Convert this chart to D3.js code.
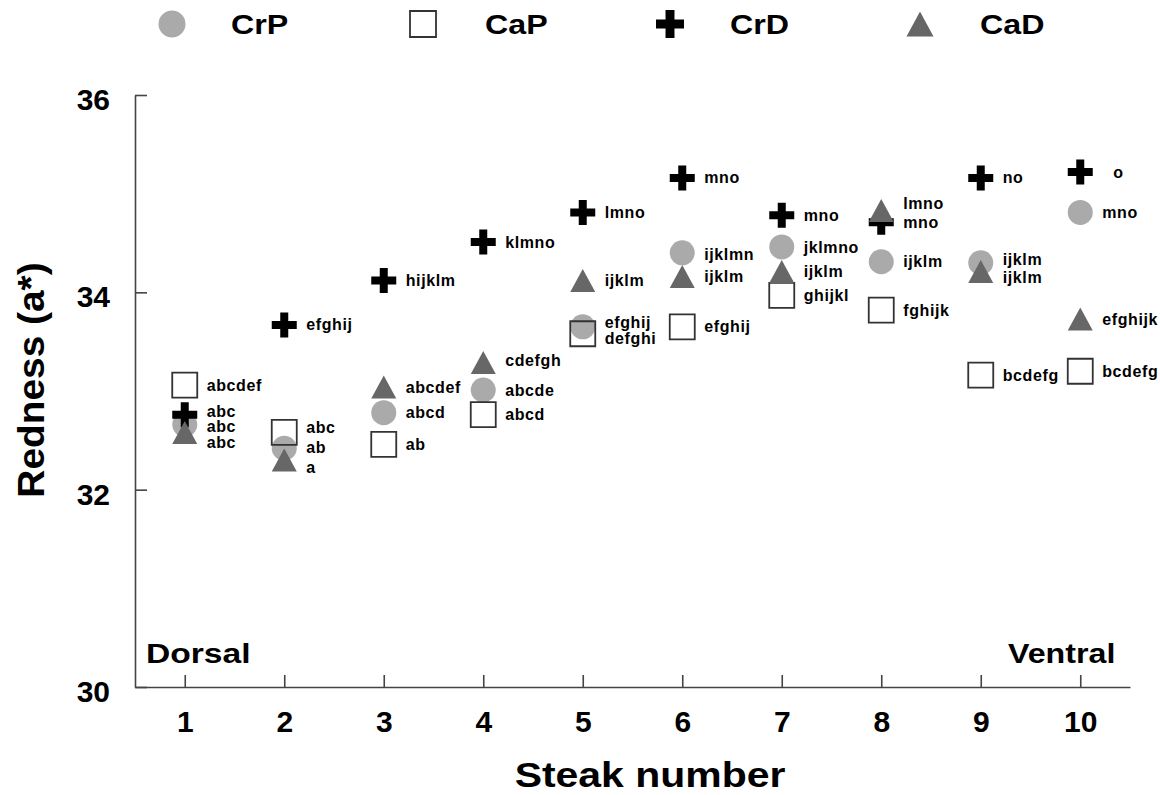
<!DOCTYPE html>
<html>
<head>
<meta charset="utf-8">
<script src="https://cdn.jsdelivr.net/npm/d3@7"></script>
<style>
  html, body { margin: 0; padding: 0; background: #fff; }
  svg { display: block; }
  text { font-family: "Liberation Sans", Arial, sans-serif; font-weight: bold; fill: #000; }
</style>
</head>
<body>
<svg id="chart" width="1160" height="795"></svg>
<script>
// ---- data ----
const steaks = [1, 2, 3, 4, 5, 6, 7, 8, 9, 10];
const seriesNames = ["CrP", "CaP", "CrD", "CaD"];
const CrP = [32.66, 32.42, 32.78, 33.01, 33.65, 34.40, 34.46, 34.31, 34.30, 34.81];
const CaP = [33.06, 32.58, 32.46, 32.76, 33.58, 33.65, 33.97, 33.82, 33.16, 33.20];
const CrD = [32.76, 33.67, 34.12, 34.51, 34.81, 35.16, 34.78, 34.71, 35.16, 35.22];
const CaD = [32.58, 32.30, 33.04, 33.29, 34.12, 34.16, 34.21, 34.83, 34.21, 33.73];
const CrPLetters = ["abc", "ab", "abcd", "abcde", "efghij", "ijklmn", "jklmno", "ijklm", "ijklm", "mno"];
const CaPLetters = ["abcdef", "abc", "ab", "abcd", "defghi", "efghij", "ghijkl", "fghijk", "bcdefg", "bcdefg"];
const CrDLetters = ["abc", "efghij", "hijklm", "klmno", "lmno", "mno", "mno", "mno", "no", "o"];
const CaDLetters = ["abc", "a", "abcdef", "cdefgh", "ijklm", "ijklm", "ijklm", "lmno", "ijklm", "efghijk"];
const yTicks = [30, 32, 34, 36];
const xTicks = steaks;

// ---- layout (label nudges, px) ----
const labelDy = {
  CrP: [2, -1, 0, 0, -4, 2, 0, 0, -3, 0],
  CaP: [0, -5, 0, 0, 5, 0, 0, 0, 0, 0],
  CrD: [-3, 0, 0, 0, 0, 0, 0, 0, 0, 0],
  CaD: [10, 7, 0, -2, 0, 0, 0, -7, 6, 0]
};
const labelDx = {
  CrP: [0, 0, 0, 0, 0, 0, 0, 0, 0, 0],
  CaP: [0, 0, 0, 0, 0, 0, 0, 0, 0, 0],
  CrD: [0, 0, 0, 0, 0, 0, 0, 0, 0, 11],
  CaD: [0, 0, 0, 0, 0, 0, 0, 0, 0, 0]
};

const values = { CrP, CaP, CrD, CaD };
const letters = { CrP: CrPLetters, CaP: CaPLetters, CrD: CrDLetters, CaD: CaDLetters };

const svg = d3.select("#chart");
const x = d3.scaleLinear().domain([0.5, 10.5]).range([135, 1130]);
const y = d3.scaleLinear().domain([30, 36]).range([687, 95]);

// marker shape paths centered at 0,0
function shapePath(name, s) {
  const h = s / 2;
  if (name === "CrP") {
    return `M${-h},0A${h},${h} 0 1,0 ${h},0A${h},${h} 0 1,0 ${-h},0Z`;
  }
  if (name === "CaP") {
    return `M${-h},${-h}H${h}V${h}H${-h}Z`;
  }
  if (name === "CrD") {
    const t = s * 0.16;
    return `M${-t},${-h}H${t}V${-t}H${h}V${t}H${t}V${h}H${-t}V${t}H${-h}V${-t}H${-t}Z`;
  }
  const th = s * 0.46;
  return `M0,${-th}L${h},${th}L${-h},${th}Z`;
}
const styles = {
  CrP: { fill: "#aaaaaa", stroke: "none", sw: 0 },
  CaP: { fill: "none", stroke: "#333", sw: 1.8 },
  CrD: { fill: "#000", stroke: "none", sw: 0 },
  CaD: { fill: "#676767", stroke: "none", sw: 0 }
};

// stretched text helper (the original uses wide bold glyphs)
function wideText(parent, txt, tx, ty, size, sx, anchor, rot) {
  const tr = `translate(${tx},${ty})` + (rot ? ` rotate(${rot})` : "") + ` scale(${sx},1)`;
  return parent.append("text").attr("transform", tr)
    .attr("text-anchor", anchor || "start").attr("font-size", size).text(txt);
}

// ---- axes ----
const yAxis = d3.axisLeft(y).tickValues(yTicks).tickSizeInner(-12).tickSizeOuter(0).tickPadding(25).tickFormat(d3.format("d"));
const gy = svg.append("g").attr("transform", "translate(135,0)").call(yAxis);
gy.select(".domain").attr("stroke", "#444").attr("stroke-width", 1.6);
gy.selectAll(".tick line").attr("stroke", "#444").attr("stroke-width", 1.6);
gy.selectAll(".tick text").attr("font-size", 30).attr("font-family", "Liberation Sans, Arial, sans-serif").attr("font-weight", "bold").attr("fill", "#000").attr("dy", "0.48em");

const xAxis = d3.axisBottom(x).tickValues(xTicks).tickSizeInner(-12).tickSizeOuter(0).tickPadding(24).tickFormat(d3.format("d"));
const gx = svg.append("g").attr("transform", "translate(0,687)").call(xAxis);
gx.select(".domain").attr("stroke", "#444").attr("stroke-width", 1.6);
gx.selectAll(".tick line").attr("stroke", "#444").attr("stroke-width", 1.6);
gx.selectAll(".tick text").attr("font-size", 30).attr("font-family", "Liberation Sans, Arial, sans-serif").attr("font-weight", "bold").attr("fill", "#000").attr("dy", "0.71em");

// ---- axis titles ----
wideText(svg, "Steak number", 650, 787, 35, 1.17, "middle");
wideText(svg, "Redness (a*)", 44, 380, 37, 1.05, "middle", -90);
wideText(svg, "Dorsal", 146, 663, 28, 1.2, "start");
wideText(svg, "Ventral", 1008, 663, 28, 1.15, "start");

// ---- points ----
const markerSize = 25;
seriesNames.forEach(name => {
  const st = styles[name];
  const g = svg.append("g").attr("class", "series-" + name);
  g.selectAll("path").data(steaks).join("path")
    .attr("d", shapePath(name, markerSize))
    .attr("transform", (d, i) => `translate(${x(d)},${y(values[name][i])})`)
    .attr("fill", st.fill).attr("stroke", st.stroke).attr("stroke-width", st.sw);
});
seriesNames.forEach(name => {
  svg.append("g").selectAll("text").data(steaks).join("text")
    .attr("x", (d, i) => x(d) + 22 + labelDx[name][i])
    .attr("y", (d, i) => y(values[name][i]) + labelDy[name][i])
    .attr("dy", "0.35em")
    .attr("font-size", 16)
    .attr("letter-spacing", 0.6)
    .text((d, i) => letters[name][i]);
});

// ---- legend ----
const legendPos = [
  { name: "CrP", mx: 172, tx: 231, size: 27 },
  { name: "CaP", mx: 423, tx: 485, size: 26 },
  { name: "CrD", mx: 670, tx: 730, size: 28 },
  { name: "CaD", mx: 920, tx: 980, size: 27 }
];
const lg = svg.append("g");
legendPos.forEach(l => {
  const st = styles[l.name];
  lg.append("path").attr("d", shapePath(l.name, l.size))
    .attr("transform", `translate(${l.mx},24)`)
    .attr("fill", st.fill).attr("stroke", st.stroke).attr("stroke-width", st.sw);
  wideText(lg, l.name, l.tx, 34, 28, 1.15, "start");
});
</script>
</body>
</html>
